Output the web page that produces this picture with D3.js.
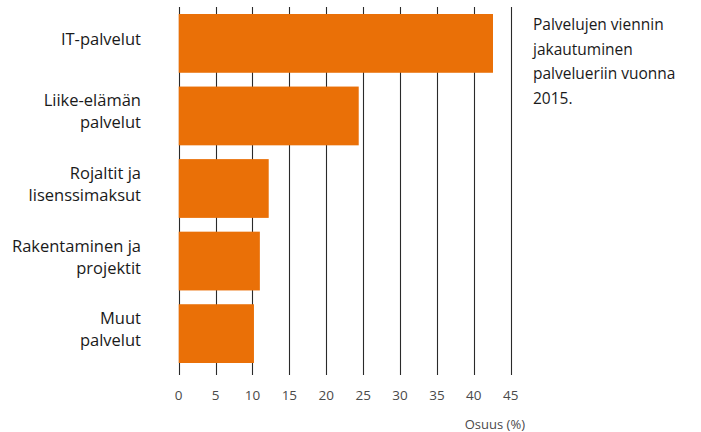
<!DOCTYPE html>
<html><head><meta charset="utf-8">
<script src="https://cdn.jsdelivr.net/npm/d3@7/dist/d3.min.js"></script>
<style>
body{margin:0;background:#fff;}
text{font-family:"Open Sans",sans-serif;}
</style></head>
<body><svg id="c" width="701" height="432"></svg>
<script>
const categories = [["IT-palvelut"],["Liike-elämän","palvelut"],["Rojaltit ja","lisenssimaksut"],["Rakentaminen ja","projektit"],["Muut","palvelut"]];
const values = [42.6, 24.4, 12.2, 11.0, 10.2];
const xTicks = [0,5,10,15,20,25,30,35,40,45];
const axisTitle = "Osuus (%)";
const note = ["Palvelujen viennin","jakautuminen","palvelueriin vuonna","2015."];

const svg = d3.select("#c");
const x = d3.scaleLinear().domain([0,45]).range([178.7,510.7]);
const y = d3.scaleBand().domain(d3.range(categories.length)).range([14,363]).paddingInner(0.19).paddingOuter(0);

svg.append("g").selectAll("line").data(xTicks).join("line")
  .attr("x1",d=>Math.round(x(d))+0.5).attr("x2",d=>Math.round(x(d))+0.5)
  .attr("y1",7).attr("y2",375)
  .attr("stroke","#2a2a2a").attr("stroke-width",1.1);

svg.append("g").selectAll("rect").data(values).join("rect")
  .attr("x",x(0)).attr("y",(d,i)=>y(i))
  .attr("width",d=>x(d)-x(0)).attr("height",y.bandwidth())
  .attr("fill","#ea7007");

svg.append("g").selectAll("text").data(xTicks).join("text")
  .attr("x",d=>x(d)).attr("y",400).attr("text-anchor","middle")
  .attr("font-size",13.5).attr("fill","#4a4a4a")
  .text(d=>d);

svg.append("text").attr("x",525).attr("y",429).attr("text-anchor","end")
  .attr("font-size",13).attr("fill","#4a4a4a").text(axisTitle);

const lh = 22;
categories.forEach((lines,i)=>{
  const cy = y(i)+y.bandwidth()/2 - 4;
  const t = svg.append("text").attr("text-anchor","end").attr("font-size",16.5).attr("fill","#1a1a1a");
  lines.forEach((l,j)=>{
    t.append("tspan").attr("x",141).attr("y", cy - (lines.length-1)*lh/2 + j*lh + 5.5).text(l);
  });
});

const nt = svg.append("text").attr("font-size",15.5).attr("fill","#1a1a1a");
note.forEach((l,j)=>nt.append("tspan").attr("x",533).attr("y",30+j*24.5).text(l));
</script></body></html>
